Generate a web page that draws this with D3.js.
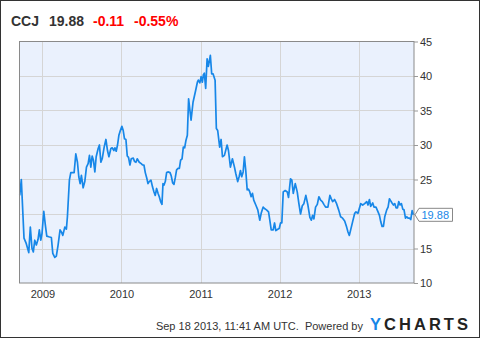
<!DOCTYPE html>
<html lang="en">

<head>
  <meta charset="UTF-8">
  <title>CCJ price chart</title>
  <script src="https://d3js.org/d3.v7.min.js"></script>
  <style>
    body { margin: 0; background: #fff; }
    svg text { font-family: "Liberation Sans", Arial, sans-serif; }
  </style>
</head>

<body>
  <script>
    // header values
    const symbol = 'CCJ';
    const lastPrice = 19.88;
    const change = -0.11;
    const changePct = -0.55;
    const stamp = 'Sep 18 2013, 11:41 AM UTC.  Powered by';

    // weekly closes, dates as decimal years
    const dates = [
      2008.713, 2008.733, 2008.767, 2008.796, 2008.827, 2008.847, 2008.868, 2008.885, 2008.903, 2008.923,
      2008.944, 2008.961, 2008.979, 2008.995, 2009.017, 2009.037, 2009.055, 2009.080, 2009.113, 2009.131,
      2009.156, 2009.176, 2009.198, 2009.223, 2009.240, 2009.258, 2009.283, 2009.303, 2009.316, 2009.341,
      2009.359, 2009.388, 2009.401, 2009.422, 2009.443, 2009.460, 2009.477, 2009.493, 2009.515, 2009.536,
      2009.557, 2009.578, 2009.595, 2009.612, 2009.629, 2009.645, 2009.663, 2009.680, 2009.705, 2009.721,
      2009.739, 2009.756, 2009.781, 2009.803, 2009.823, 2009.841, 2009.866, 2009.882, 2009.904, 2009.917,
      2009.933, 2009.950, 2009.967, 2009.980, 2010.005, 2010.022, 2010.038, 2010.056, 2010.073, 2010.089,
      2010.107, 2010.123, 2010.149, 2010.165, 2010.183, 2010.199, 2010.225, 2010.250, 2010.266, 2010.284,
      2010.301, 2010.322, 2010.335, 2010.351, 2010.373, 2010.393, 2010.411, 2010.427, 2010.444, 2010.462,
      2010.478, 2010.495, 2010.512, 2010.525, 2010.538, 2010.554, 2010.571, 2010.588, 2010.614, 2010.630,
      2010.647, 2010.664, 2010.681, 2010.697, 2010.715, 2010.732, 2010.748, 2010.766, 2010.782, 2010.799,
      2010.816, 2010.833, 2010.849, 2010.880, 2010.905, 2010.938, 2010.960, 2010.972, 2010.991, 2011.007,
      2011.023, 2011.036, 2011.048, 2011.065, 2011.083, 2011.099, 2011.124, 2011.141, 2011.159, 2011.184,
      2011.200, 2011.217, 2011.242, 2011.260, 2011.277, 2011.302, 2011.336, 2011.353, 2011.378, 2011.403,
      2011.429, 2011.445, 2011.470, 2011.488, 2011.505, 2011.521, 2011.539, 2011.555, 2011.572, 2011.590,
      2011.606, 2011.623, 2011.640, 2011.657, 2011.673, 2011.699, 2011.724, 2011.749, 2011.767, 2011.792,
      2011.809, 2011.834, 2011.860, 2011.876, 2011.894, 2011.919, 2011.936, 2011.952, 2011.977, 2011.995,
      2012.012, 2012.028, 2012.046, 2012.071, 2012.097, 2012.113, 2012.138, 2012.155, 2012.173, 2012.198,
      2012.223, 2012.244, 2012.265, 2012.287, 2012.307, 2012.332, 2012.358, 2012.383, 2012.401, 2012.417,
      2012.434, 2012.455, 2012.477, 2012.497, 2012.519, 2012.540, 2012.560, 2012.582, 2012.611, 2012.636,
      2012.654, 2012.671, 2012.696, 2012.721, 2012.747, 2012.772, 2012.797, 2012.823, 2012.848, 2012.865,
      2012.882, 2012.899, 2012.924, 2012.950, 2012.966, 2012.991, 2013.026, 2013.051, 2013.076, 2013.102,
      2013.118, 2013.136, 2013.152, 2013.178, 2013.194, 2013.219, 2013.245, 2013.263, 2013.279, 2013.296,
      2013.313, 2013.330, 2013.355, 2013.372, 2013.389, 2013.406, 2013.422, 2013.440, 2013.457, 2013.473,
      2013.491, 2013.507, 2013.524, 2013.541, 2013.558, 2013.574, 2013.592, 2013.609, 2013.625, 2013.643,
      2013.659, 2013.676, 2013.694
    ];
    const prices = [
      22.7, 25.0, 16.5, 15.7, 14.4, 18.1, 15.0, 14.5, 16.2, 15.5,
      16.3, 17.7, 16.2, 17.2, 20.4, 18.4, 16.8, 16.7, 16.6, 14.3,
      13.7, 13.9, 15.5, 17.7, 17.4, 16.9, 18.1, 17.8, 19.6, 24.9,
      26.0, 26.0, 26.0, 28.7, 27.5, 25.4, 24.4, 25.6, 23.8, 24.7,
      26.8, 27.3, 28.5, 26.8, 28.4, 27.8, 26.1, 28.3, 29.5, 30.0,
      27.5, 28.0, 29.7, 30.8, 29.2, 28.3, 29.5, 29.6, 29.2, 29.6,
      29.1, 30.0, 31.4, 31.9, 32.7, 32.1, 30.9, 30.8, 28.4, 28.2,
      27.1, 28.0, 28.1, 27.6, 27.5, 28.0, 27.5, 27.3, 27.1, 27.1,
      26.0, 25.1, 24.4, 24.7, 24.9, 23.9, 23.2, 22.7, 23.7, 23.0,
      22.5, 21.8, 21.4, 24.4, 24.2, 24.7, 26.0, 26.1, 26.0, 25.5,
      24.5, 24.3, 25.3, 26.4, 26.6, 26.6, 27.8, 28.0, 29.7, 29.6,
      30.7, 31.4, 36.7, 33.6, 36.2, 37.9, 39.1, 39.4, 39.0, 39.9,
      39.1, 40.2, 40.4, 38.2, 42.5, 41.4, 43.0, 40.3, 40.3, 39.4,
      32.4, 32.1, 29.7, 30.8, 28.3, 28.5, 30.0, 29.2, 26.8, 28.0,
      26.8, 25.9, 24.7, 25.4, 26.3, 25.4, 26.1, 28.3, 26.3, 23.5,
      23.6, 23.2, 22.5, 23.0, 22.0, 21.3, 20.6, 19.1, 20.1, 21.0,
      20.8, 20.6, 20.3, 19.1, 17.7, 17.7, 18.7, 17.6, 17.8, 17.9,
      18.7, 18.7, 23.2, 23.4, 23.2, 22.4, 25.1, 24.9, 23.0, 24.4,
      23.2, 21.5, 20.0, 21.2, 21.5, 22.7, 21.3, 19.5, 19.1, 19.8,
      19.3, 21.0, 21.4, 22.5, 22.0, 21.8, 21.4, 21.0, 21.0, 22.7,
      22.2, 21.8, 22.1, 21.5, 20.6, 19.6, 19.4, 19.0, 18.1, 17.4,
      16.9, 17.7, 18.9, 20.1, 20.3, 20.1, 21.5, 21.3, 21.5, 21.8,
      21.3, 22.1, 21.1, 21.6, 21.0, 21.0, 20.3, 19.8, 18.9, 18.2,
      18.2, 19.6, 20.6, 21.0, 22.2, 21.9, 21.6, 21.3, 21.5, 20.9,
      20.9, 21.8, 21.3, 21.5, 20.7, 20.6, 19.4, 19.6, 19.4, 19.4,
      19.2, 20.5, 19.88
    ];

    const yearTicks = [2009, 2010, 2011, 2012, 2013];
    const priceTicks = [10, 15, 20, 25, 30, 35, 40, 45];

    const w = 480;
    const h = 338;
    const plotLeft = 19.5, plotRight = 414, plotTop = 41.5, plotBottom = 283;
    const blue = '#1787e8';

    const xScale = d3.scaleLinear()
      .domain([2008.71, 2013.70])
      .range([plotLeft, plotRight]);

    const yScale = d3.scaleLinear()
      .domain([10, 45])
      .range([plotBottom, plotTop]);

    const svg = d3.select('body')
      .append('svg')
      .attr('width', w)
      .attr('height', h);

    // outer frame
    svg.append('rect')
      .attr('x', 0.5).attr('y', 0.5)
      .attr('width', w - 1).attr('height', h - 1)
      .attr('fill', '#fff')
      .attr('stroke', '#333');

    // header
    const head = svg.append('g')
      .attr('font-size', 14)
      .attr('font-weight', 'bold');
    head.append('text').attr('x', 11).attr('y', 26).attr('fill', '#333').text(symbol);
    head.append('text').attr('x', 49).attr('y', 26).attr('fill', '#333').text(lastPrice.toFixed(2));
    head.append('text').attr('x', 93).attr('y', 26).attr('fill', '#f00').text(change.toFixed(2));
    head.append('text').attr('x', 134).attr('y', 26).attr('fill', '#f00').text(changePct.toFixed(2) + '%');

    // plot background
    svg.append('rect')
      .attr('x', plotLeft).attr('y', plotTop)
      .attr('width', plotRight - plotLeft).attr('height', plotBottom - plotTop)
      .attr('fill', '#eaf1fd');

    // grid
    svg.append('g')
      .selectAll('line')
      .data(priceTicks.slice(1, -1))
      .enter()
      .append('line')
      .attr('x1', plotLeft).attr('x2', plotRight)
      .attr('y1', d => Math.round(yScale(d)) + 0.5)
      .attr('y2', d => Math.round(yScale(d)) + 0.5)
      .attr('stroke', '#d5d5d5');

    svg.append('g')
      .selectAll('line')
      .data(yearTicks)
      .enter()
      .append('line')
      .attr('y1', plotTop).attr('y2', plotBottom)
      .attr('x1', d => Math.round(xScale(d)) + 0.5)
      .attr('x2', d => Math.round(xScale(d)) + 0.5)
      .attr('stroke', '#d5d5d5');

    // price line
    const line = d3.line()
      .x((d, i) => xScale(dates[i]))
      .y(d => yScale(d));

    svg.append('path')
      .datum(prices)
      .attr('d', line)
      .attr('fill', 'none')
      .attr('stroke', blue)
      .attr('stroke-width', 1.7)
      .attr('stroke-linejoin', 'round');

    // plot border
    svg.append('rect')
      .attr('x', plotLeft).attr('y', plotTop)
      .attr('width', plotRight - plotLeft).attr('height', plotBottom - plotTop)
      .attr('fill', 'none')
      .attr('stroke', '#8a8a8a');

    // y axis on the right; the label hidden under the last-value flag is dropped
    const ly = yScale(lastPrice);
    const yAxis = svg.append('g')
      .attr('transform', `translate(${plotRight},0)`)
      .call(d3.axisRight(yScale).tickValues(priceTicks).tickSize(4).tickPadding(2));
    yAxis.select('.domain').remove();
    yAxis.selectAll('line').attr('stroke', '#999');
    yAxis.selectAll('.tick')
      .filter(d => Math.abs(yScale(d) - ly) < 12)
      .select('text').remove();
    yAxis.selectAll('text').attr('font-size', 11).attr('fill', '#333')
      .style('font-family', '"Liberation Sans", Arial, sans-serif');

    // x axis
    const xAxis = svg.append('g')
      .attr('transform', `translate(0,${plotBottom})`)
      .call(d3.axisBottom(xScale).tickValues(yearTicks).tickFormat(d3.format('d')).tickSize(0).tickPadding(7));
    xAxis.select('.domain').remove();
    xAxis.selectAll('text').attr('font-size', 11).attr('fill', '#333')
      .style('font-family', '"Liberation Sans", Arial, sans-serif');

    // last value flag
    svg.append('path')
      .attr('d', `M${plotRight + 1},${ly} L${plotRight + 5},${ly - 6.5} H${plotRight + 38.5} V${ly + 6.5} H${plotRight + 5} Z`)
      .attr('fill', '#fff')
      .attr('stroke', '#888');
    svg.append('text')
      .attr('x', plotRight + 7.5).attr('y', ly + 4)
      .attr('font-size', 11)
      .attr('fill', blue)
      .text(lastPrice.toFixed(2));

    // footer
    svg.append('text')
      .attr('x', 363).attr('y', 330)
      .attr('text-anchor', 'end')
      .attr('font-size', 11)
      .attr('fill', '#333')
      .style('white-space', 'pre')
      .text(stamp);

    const logo = svg.append('text')
      .attr('x', 370).attr('y', 330)
      .attr('font-size', 16.5)
      .attr('font-weight', 'bold')
      .attr('textLength', 98)
      .attr('lengthAdjust', 'spacing');
    logo.append('tspan').attr('fill', blue).text('Y');
    logo.append('tspan').attr('fill', '#222').text('CHARTS');
  </script>
</body>

</html>
